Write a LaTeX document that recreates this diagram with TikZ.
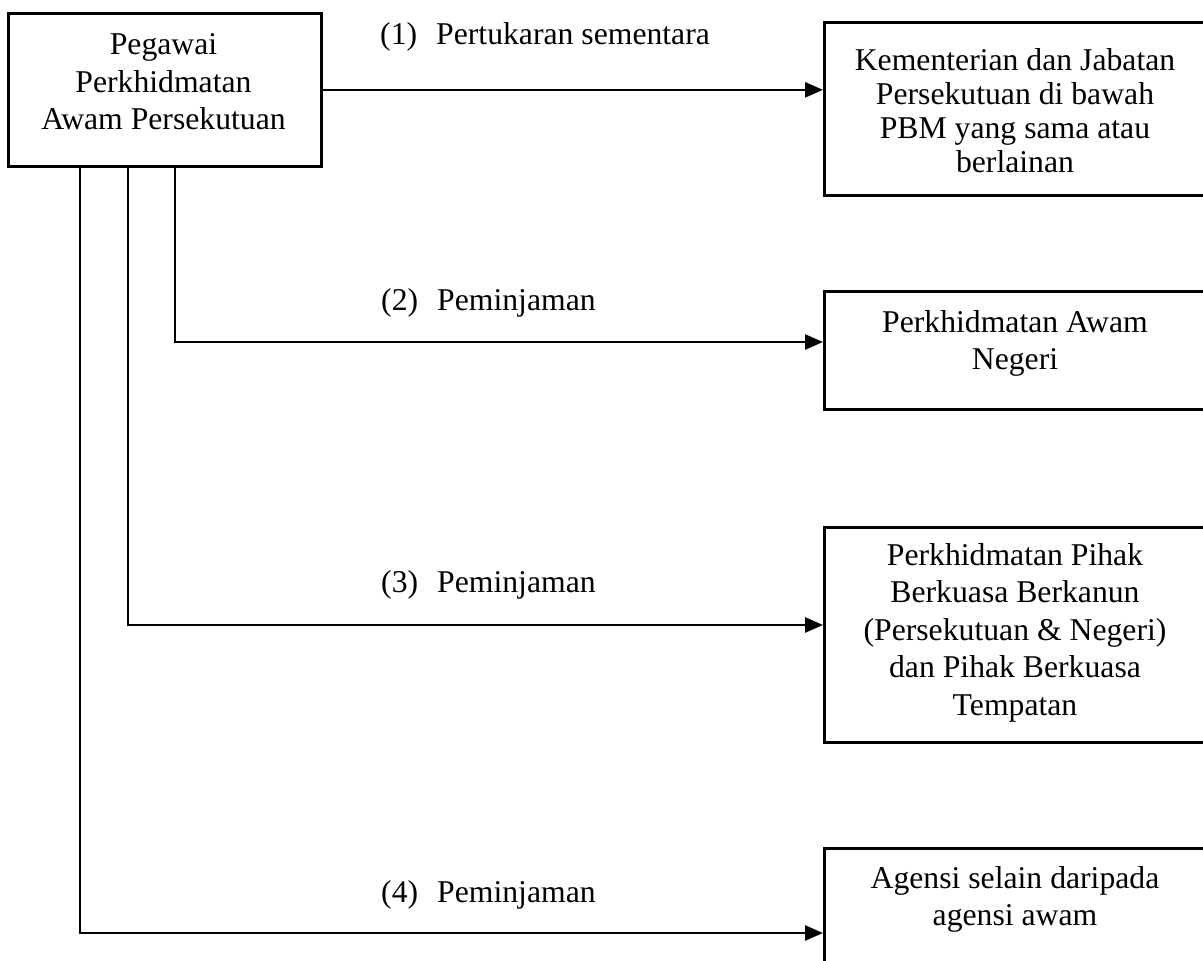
\documentclass[tikz,border=0pt]{standalone}
\usepackage{fontspec}
\setmainfont{Liberation Serif}
\usetikzlibrary{arrows.meta}
\begin{document}
\begin{tikzpicture}[x=1pt,y=-1pt,
  box/.style={draw,line width=2.7pt,rectangle,inner sep=0pt,anchor=north west},
  txt/.style={font=\fontsize{31.7}{37.5}\selectfont,align=center,inner sep=0pt,anchor=north},
  lbl/.style={font=\fontsize{31.7}{37.5}\selectfont,inner sep=0pt,anchor=base west},
  arr/.style={line width=2.7pt,-{Triangle[length=18pt,width=15pt]}}]
\useasboundingbox (0,0) rectangle (1203,961);
\clip (0,0) rectangle (1203,961);
% boxes
\node[box,minimum width=313pt,minimum height=153pt] (src) at (7,12) {};
\node[box,minimum width=385pt,minimum height=173pt] (b1) at (823,21) {};
\node[box,minimum width=385pt,minimum height=118pt] (b2) at (823,290) {};
\node[box,minimum width=385pt,minimum height=215pt] (b3) at (823,526) {};
\node[box,minimum width=385pt,minimum height=200pt] (b4) at (823,847) {};
% texts
\node[txt] (tsrc) at (163.5,33.4) {Pegawai\\Perkhidmatan\\Awam Persekutuan};
\node[txt,font=\fontsize{31.7}{34}\selectfont] (t1) at (1015,48) {Kementerian dan Jabatan\\Persekutuan di bawah\\PBM yang sama atau\\berlainan};
\node[txt] (t2) at (1015,310) {Perkhidmatan Awam\\Negeri};
\node[txt] (t3) at (1015,543) {Perkhidmatan Pihak\\Berkuasa Berkanun\\(Persekutuan \& Negeri)\\dan Pihak Berkuasa\\Tempatan};
\node[txt] (t4) at (1015,866) {Agensi selain daripada\\agensi awam};
% labels
\node[lbl] (l1) at (380,45) {(1)\hspace{0.6em}Pertukaran sementara};
\node[lbl] (l2) at (381,310) {(2)\hspace{0.6em}Peminjaman};
\node[lbl] (l3) at (381,592) {(3)\hspace{0.6em}Peminjaman};
\node[lbl] (l4) at (381,902) {(4)\hspace{0.6em}Peminjaman};
% connectors
\coordinate (a2) at (175,342);
\coordinate (a3) at (128,625);
\coordinate (a4) at (80,933);
\draw[arr] (src.east) -- (src.east -| b1.west);
\draw[arr] (src.south -| a2) |- (a2 -| b2.west);
\draw[arr] (src.south -| a3) |- (a3 -| b3.west);
\draw[arr] (src.south -| a4) |- (a4 -| b4.west);
\end{tikzpicture}
\end{document}
